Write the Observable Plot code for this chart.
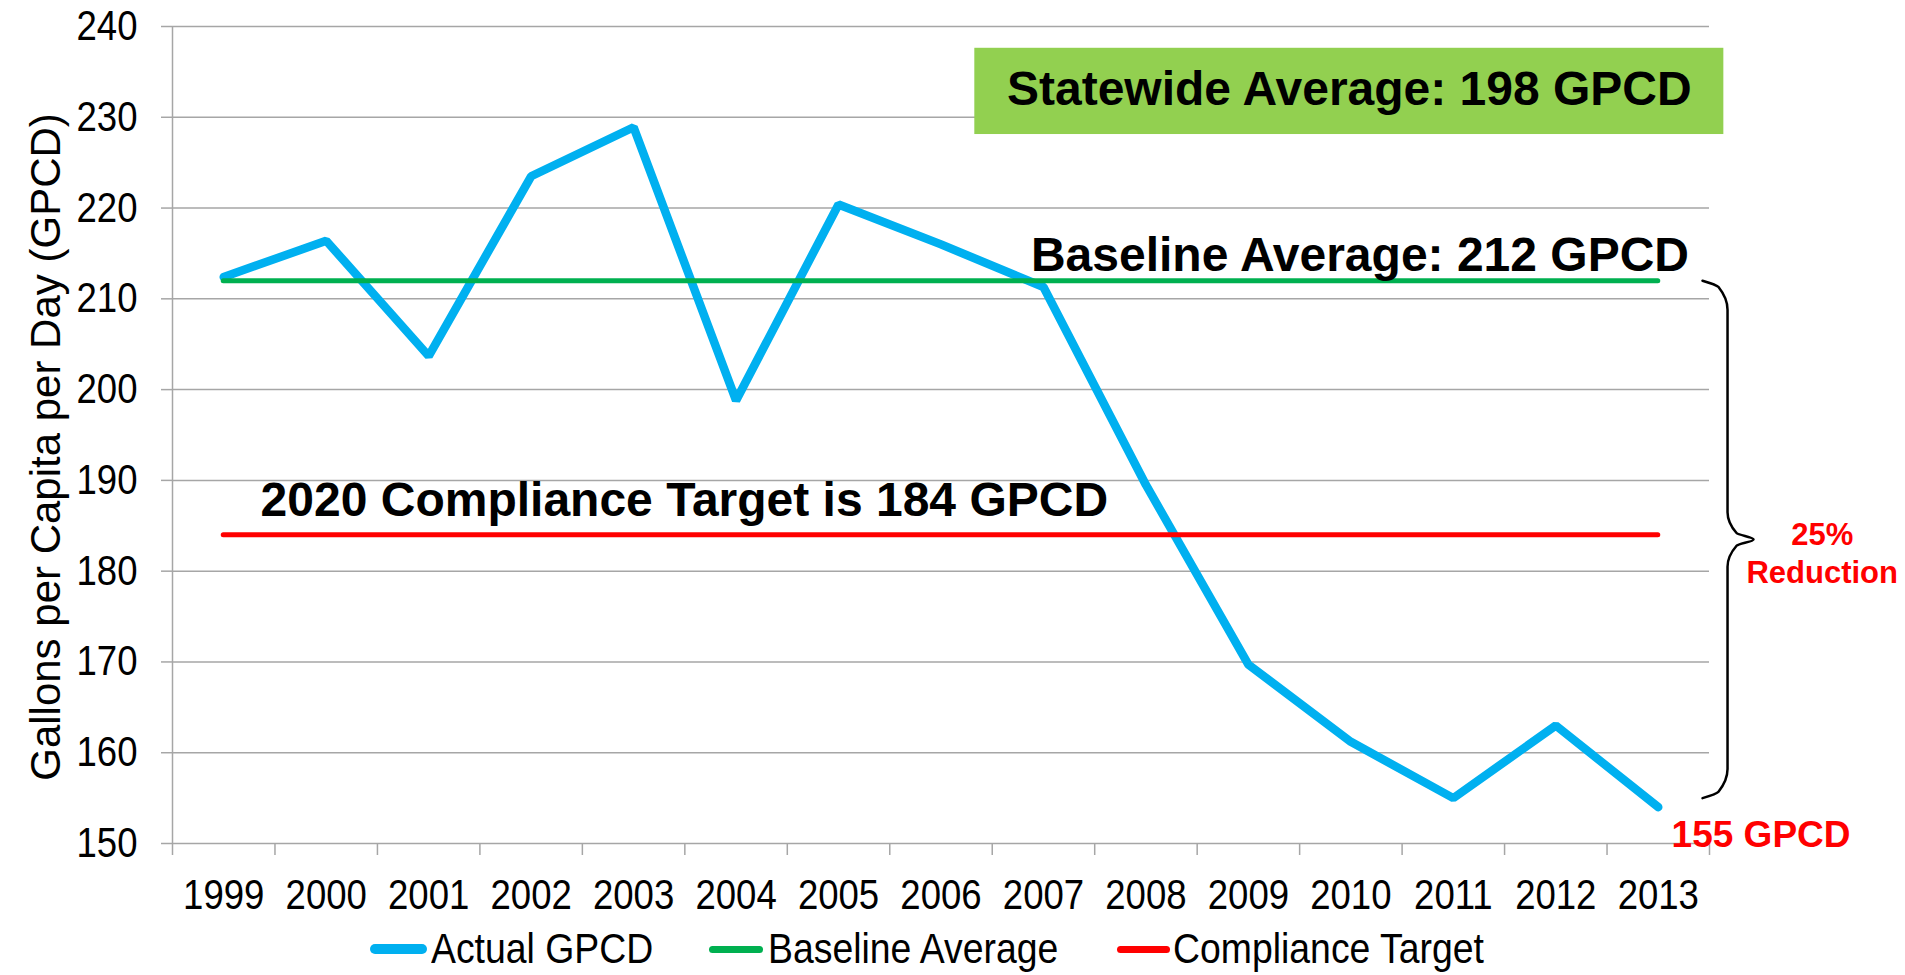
<!DOCTYPE html>
<html><head><meta charset="utf-8">
<script src="https://cdn.jsdelivr.net/npm/d3@7"></script>
<script src="https://cdn.jsdelivr.net/npm/@observablehq/plot@0.6"></script>
<style>
html,body{margin:0;padding:0;background:#fff;}
#wrap{position:relative;width:1905px;height:975px;font-family:"Liberation Sans",Arial,sans-serif;background:#fff;overflow:hidden;}
#legend{position:absolute;left:0;top:927px;width:1905px;height:44px;font-size:42px;color:#000;white-space:nowrap;}
.sw{position:absolute;top:50%;}
.lt{position:absolute;top:0;line-height:44px;transform:scaleX(0.89);transform-origin:left center;}
</style></head><body><div id="wrap"><div id="legend"></div></div>
<script>
// ---- data ----
const years = [1999,2000,2001,2002,2003,2004,2005,2006,2007,2008,2009,2010,2011,2012,2013];
const actualGPCD = [212.4,216.4,203.7,223.5,228.9,198.8,220.4,216.0,211.3,189.5,169.7,161.2,155.0,163.0,154.0];
const baselineAverage = 212;
const complianceTarget = 184;
const endValue = 155;
const yTicks = [150,160,170,180,190,200,210,220,230,240];
const legendLabels = ["Actual GPCD","Baseline Average","Compliance Target"];
const seriesColors = ["#00B0F0","#00B050","#FF0000"];
const yLabel = "Gallons per Capita per Day (GPCD)";
const statewideText = "Statewide Average: 198 GPCD";
const baselineText = "Baseline Average: 212 GPCD";
const targetText = "2020 Compliance Target is 184 GPCD";
const endText = "155 GPCD";
const reductionLines = ["25%","Reduction"];
// brace shape (x in years; y derived from the brace ends / tip)
const braceX = [2013.432,2013.588,2013.676,2013.676,2013.764,2013.930,2013.764,2013.676,2013.676,2013.588,2013.432];
// statewide box in data units
const boxX = [2006.33, 2013.64];
const boxY = [228.1, 237.6];

const bounds = d3.range(years.length + 1).map(i => years[0] - 0.5 + i);
const actual = years.map((y, i) => ({year: y, value: actualGPCD[i]}));
const tip = (baselineAverage + endValue) / 2;
const braceYs = [endValue, endValue + 0.7, endValue + 3.2, tip - 3.0, tip - 0.7, tip, tip + 0.7, tip + 3.0, baselineAverage - 3.2, baselineAverage - 0.7, baselineAverage];
const brace = braceX.map((x, i) => ({x, y: braceYs[i]}));
const grey = "#a6a6a6";

const chart = Plot.plot({
  width: 1905,
  height: 915,
  marginLeft: 172,
  marginRight: 196,
  marginTop: 26,
  marginBottom: 72,
  style: {fontFamily: '"Liberation Sans", Arial, sans-serif', background: "#fff", color: "#000", overflow: "visible"},
  x: {type: "linear", domain: [bounds[0], bounds[bounds.length - 1]]},
  y: {domain: [yTicks[0], yTicks[yTicks.length - 1]]},
  marks: [
    Plot.gridY(yTicks, {stroke: grey, strokeOpacity: 1, strokeWidth: 1.5}),
    Plot.axisY(yTicks, {tickSize: 11, tickPadding: 24, fontSize: 42, stroke: grey, strokeWidth: 1.5, fill: "#000", label: null}),
    Plot.axisX(bounds, {tickSize: 12, tickFormat: () => "", stroke: grey, strokeWidth: 1.5, label: null}),
    Plot.axisX(years, {tickSize: 0, tickPadding: 36, fontSize: 42, fill: "#000", tickFormat: d => String(d), label: null}),
    Plot.ruleX([bounds[0]], {stroke: grey, strokeWidth: 1.5}),
    Plot.text([yLabel], {frameAnchor: "left", rotate: -90, dx: -126, dy: 12, fontSize: 42, fill: "#000", lineAnchor: "middle", textAnchor: "middle"}),
    Plot.rect([0], {x1: boxX[0], x2: boxX[1], y1: boxY[0], y2: boxY[1], fill: "#92D050", clip: false}),
    Plot.line(actual, {x: "year", y: "value", stroke: seriesColors[0], strokeWidth: 8.5, strokeLinecap: "round", strokeLinejoin: "miter"}),
    Plot.ruleY([baselineAverage], {x1: years[0], x2: years[years.length - 1], stroke: seriesColors[1], strokeWidth: 5, strokeLinecap: "round"}),
    Plot.ruleY([complianceTarget], {x1: years[0], x2: years[years.length - 1], stroke: seriesColors[2], strokeWidth: 5, strokeLinecap: "round"}),
    Plot.text([statewideText], {x: (boxX[0] + boxX[1]) / 2, y: 233.1, fontSize: 48, fontWeight: "bold", fill: "#000", lineAnchor: "middle"}),
    Plot.text([baselineText], {x: 2013.30, y: 214.8, fontSize: 48, fontWeight: "bold", fill: "#000", textAnchor: "end", lineAnchor: "middle"}),
    Plot.text([targetText], {x: 1999.36, y: 187.8, fontSize: 48, fontWeight: "bold", fill: "#000", textAnchor: "start", lineAnchor: "middle"}),
    Plot.text([endText], {x: 2013.13, y: 150.9, fontSize: 37, fontWeight: "bold", fill: seriesColors[2], textAnchor: "start", lineAnchor: "middle", clip: false}),
    Plot.text([reductionLines[0]], {x: 2014.60, y: 184.0, fontSize: 31, fontWeight: "bold", fill: seriesColors[2], lineAnchor: "middle"}),
    Plot.text([reductionLines[1]], {x: 2014.60, y: 179.8, fontSize: 31, fontWeight: "bold", fill: seriesColors[2], lineAnchor: "middle"}),
    Plot.line(brace, {x: "x", y: "y", curve: "monotone-y", stroke: "#000", strokeWidth: 2.5, fill: "none"})
  ]
});
// condense tick labels horizontally like the original narrow type
d3.select(chart).selectAll('g[aria-label$="tick label"] text').each(function() {
  const t = this.getAttribute("transform");
  if (t) this.setAttribute("transform", t + " scale(0.87,1)");
  else {
    const x = this.getAttribute("x") || 0;
    this.setAttribute("transform", `translate(${x},0) scale(0.87,1)`);
    this.setAttribute("x", 0);
  }
});
const wrap = document.getElementById("wrap");
wrap.insertBefore(chart, wrap.firstChild);

const legend = document.getElementById("legend");
const swLeft = [370, 709, 1117];
const swW = [57, 54, 53];
const swH = [10, 7, 7];
const txtLeft = [431, 768, 1173];
legendLabels.forEach((lab, i) => {
  const sw = document.createElement("span");
  sw.className = "sw";
  sw.style.left = swLeft[i] + "px";
  sw.style.width = swW[i] + "px";
  sw.style.height = swH[i] + "px";
  sw.style.marginTop = (-swH[i] / 2) + "px";
  sw.style.background = seriesColors[i];
  sw.style.borderRadius = (swH[i] / 2) + "px";
  const t = document.createElement("span");
  t.className = "lt";
  t.style.left = txtLeft[i] + "px";
  t.textContent = lab;
  legend.appendChild(sw); legend.appendChild(t);
});
</script>
</body></html>
